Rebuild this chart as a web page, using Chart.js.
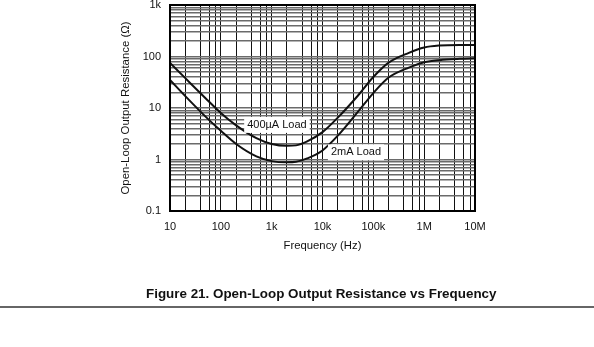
<!DOCTYPE html>
<html>
<head>
<meta charset="utf-8">
<script src="https://cdn.jsdelivr.net/npm/chart.js@4.4.0/dist/chart.umd.min.js"></script>
<style>
  body { margin: 0; background: #fff; }
  #wrap { position: relative; width: 594px; height: 347px; }
  #caption { position: absolute; left: 146px; top: 286px; line-height: 16px; font: bold 13.4px 'Liberation Sans', Arial, sans-serif; color: #111; white-space: nowrap; }
  #rule { position: absolute; left: 0; top: 306px; width: 594px; height: 2px; background: #666; }
</style>
</head>
<body>
<div id="wrap">
  <canvas id="chart-canvas" width="594" height="347"></canvas>
  <div id="caption">Figure 21. Open-Loop Output Resistance vs Frequency</div>
  <div id="rule"></div>
</div>
<script>
// Open-loop output resistance (ohms) against frequency (Hz)
const frequency = [10, 20, 50, 100, 200, 500, 1e3, 2e3, 3e3, 5e3, 1e4, 2e4, 5e4, 1e5, 2e5, 5e5, 1e6, 2e6, 5e6, 1e7];
const load400uA = [75, 38, 15.5, 8.0, 4.6, 2.6, 2.0, 1.84, 1.88, 2.25, 3.4, 6.5, 17.5, 40, 76, 118, 150, 164, 168, 168];
const load2mA = [35, 17, 6.8, 3.6, 2.0, 1.15, 0.93, 0.88, 0.9, 1.05, 1.5, 2.9, 8.5, 19.5, 39, 61, 77, 85, 90, 92];

const xTickValues = [10, 100, 1e3, 1e4, 1e5, 1e6, 1e7];
const xTickLabels = ['10', '100', '1k', '10k', '100k', '1M', '10M'];
const yTickValues = [0.1, 1, 10, 100, 1000];
const yTickLabels = ['0.1', '1', '10', '100', '1k'];

// grid steps inside each decade
const xSteps = [1, 2, 4, 6, 8];
const ySteps = [1, 2, 3, 4, 5, 6, 7, 8, 9];

// curve captions, placed in data units
const curveLabels = [
  { text: '400\u00b5A Load', f: 1270, r: 4.7 },
  { text: '2mA Load', f: 45600, r: 1.38 }
];

const FONT = "'Liberation Sans', Arial, sans-serif";

// grid ticks per decade, labels only on the decades
function logTicks(values, labels, steps) {
  const out = [];
  for (let i = 0; i < values.length - 1; i++) {
    steps.forEach(m => {
      out.push({ value: values[i] * m, name: m === 1 ? labels[i] : '' });
    });
  }
  out.push({ value: values[values.length - 1], name: labels[labels.length - 1] });
  return out;
}

const toPoints = ys => frequency.map((f, i) => ({ x: f, y: ys[i] }));

const labelBoxes = {
  id: 'labelBoxes',
  afterDatasetsDraw(chart) {
    const { ctx, chartArea: a } = chart;
    const x = chart.scales.x, y = chart.scales.y;
    ctx.save();
    ctx.font = '11px ' + FONT;
    ctx.textAlign = 'center';
    ctx.textBaseline = 'middle';
    curveLabels.forEach(l => {
      const px = x.getPixelForValue(l.f);
      const py = y.getPixelForValue(l.r);
      const w = ctx.measureText(l.text).width;
      ctx.fillStyle = '#fff';
      ctx.fillRect(px - w / 2 - 3, py - 8, w + 6, 16);
      ctx.fillStyle = '#111';
      ctx.fillText(l.text, px, py);
    });
    // plot frame
    ctx.strokeStyle = '#000';
    ctx.lineWidth = 2;
    ctx.strokeRect(a.left, a.top, a.right - a.left, a.bottom - a.top);
    ctx.restore();
  }
};

const ctx = document.getElementById('chart-canvas').getContext('2d');
new Chart(ctx, {
  type: 'line',
  data: {
    datasets: [
      { label: '400\u00b5A Load', data: toPoints(load400uA) },
      { label: '2mA Load', data: toPoints(load2mA) }
    ]
  },
  options: {
    responsive: false,
    animation: false,
    devicePixelRatio: 1,
    layout: { padding: { left: 119, right: 119, top: 5, bottom: 94 } },
    elements: {
      line: { borderColor: '#111', borderWidth: 2, cubicInterpolationMode: 'monotone' },
      point: { radius: 0 }
    },
    plugins: { legend: { display: false }, tooltip: { enabled: false } },
    scales: {
      x: {
        type: 'logarithmic',
        min: 10,
        max: 1e7,
        afterBuildTicks: s => { s.ticks = logTicks(xTickValues, xTickLabels, xSteps); },
        afterFit: s => { s.height = 42; s.paddingLeft = 0; s.paddingRight = 0; },
        grid: { color: '#111', lineWidth: 1, drawTicks: false },
        border: { color: '#000', width: 2 },
        ticks: {
          autoSkip: false, maxRotation: 0, padding: 9, color: '#111',
          font: { family: FONT, size: 11 },
          callback: (v, i, t) => t[i].name
        },
        title: { display: true, text: 'Frequency (Hz)', color: '#111', padding: 0, font: { family: FONT, size: 11.3 } }
      },
      y: {
        type: 'logarithmic',
        min: 0.1,
        max: 1000,
        afterBuildTicks: s => { s.ticks = logTicks(yTickValues, yTickLabels, ySteps); },
        afterFit: s => { s.width = 51; s.paddingTop = 0; s.paddingBottom = 0; },
        grid: { color: '#6a6a6a', lineWidth: 1.5, drawTicks: false },
        border: { color: '#000', width: 2 },
        ticks: {
          autoSkip: false, padding: 9, color: '#111',
          font: { family: FONT, size: 11 },
          callback: (v, i, t) => t[i].name
        },
        title: { display: true, text: 'Open-Loop Output Resistance (\u03a9)', color: '#111', padding: 0, font: { family: FONT, size: 11.4 } }
      }
    }
  },
  plugins: [labelBoxes]
});
</script>
</body>
</html>
